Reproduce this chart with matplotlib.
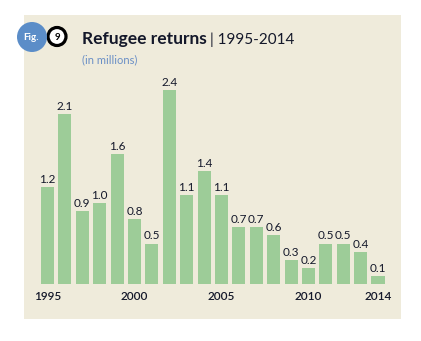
import matplotlib.pyplot as plt
from matplotlib.patches import Circle, Rectangle

plt.rcParams['font.family'] = ['Lato', 'DejaVu Sans']

years = list(range(1995, 2015))
returns = [1.2, 2.1, 0.9, 1.0, 1.6, 0.8, 0.5, 2.4, 1.1, 1.4,
           1.1, 0.7, 0.7, 0.6, 0.3, 0.2, 0.5, 0.5, 0.4, 0.1]
tick_years = [1995, 2000, 2005, 2010, 2014]

bg = '#efebdb'
bar_color = '#9dcc98'
text_color = '#14182a'

W, H = 421, 341
fig = plt.figure(figsize=(W / 100, H / 100), dpi=100)
fig.patch.set_facecolor('white')

# overlay in pixel coordinates for the panel and the badge
over = fig.add_axes([0, 0, 1, 1])
over.set_xlim(0, W)
over.set_ylim(H, 0)
over.axis('off')
over.add_patch(Rectangle((24, 15), 377, 304, facecolor=bg, edgecolor='none'))
over.add_patch(Circle((57, 36.5), 9, facecolor='white', edgecolor='black', linewidth=2.3))
over.text(57, 37, '9', ha='center', va='center', fontsize=7, fontweight='bold', color='black')
over.add_patch(Circle((32, 37), 15, facecolor='#5b8dc8', edgecolor='none'))
over.text(31.5, 37, 'Fig.', ha='center', va='center', fontsize=7, fontweight='bold', color='white')
t = over.text(82, 44, 'Refugee returns', ha='left', va='baseline', fontsize=12.5,
              fontweight='bold', color=text_color)
fig.canvas.draw()
bb = t.get_window_extent()
over.text(bb.x1 + 3, 44, '| 1995-2014', ha='left', va='baseline', fontsize=11,
          fontweight='normal', color=text_color)
over.text(82, 60, '(in millions)', ha='left', va='center', fontsize=8, color='#6a8fc6')

# bar chart
left_px, right_px = 38.8, 386.7
bottom_px, top_px = 284, 41
ax = fig.add_axes([left_px / W, (H - bottom_px) / H,
                   (right_px - left_px) / W, (bottom_px - top_px) / H])
ax.patch.set_alpha(0)
x = list(range(len(years)))
ax.bar(x, returns, width=0.75, color=bar_color)
for xi, v in zip(x, returns):
    ax.annotate(f'{v:.1f}', (xi, v), xytext=(0, 1.5), textcoords='offset points',
                ha='center', va='bottom', fontsize=8.5, color=text_color)
ax.set_xlim(-0.5, len(years) - 0.5)
ax.set_ylim(0, 3.0)
ax.set_xticks([years.index(y) for y in tick_years])
ax.set_xticklabels([str(y) for y in tick_years], fontsize=8.5, fontweight='semibold',
                   color=text_color)
ax.tick_params(axis='x', length=0, pad=5)
ax.set_yticks([])
for s in ax.spines.values():
    s.set_visible(False)

fig.savefig('out.png', dpi=100)
